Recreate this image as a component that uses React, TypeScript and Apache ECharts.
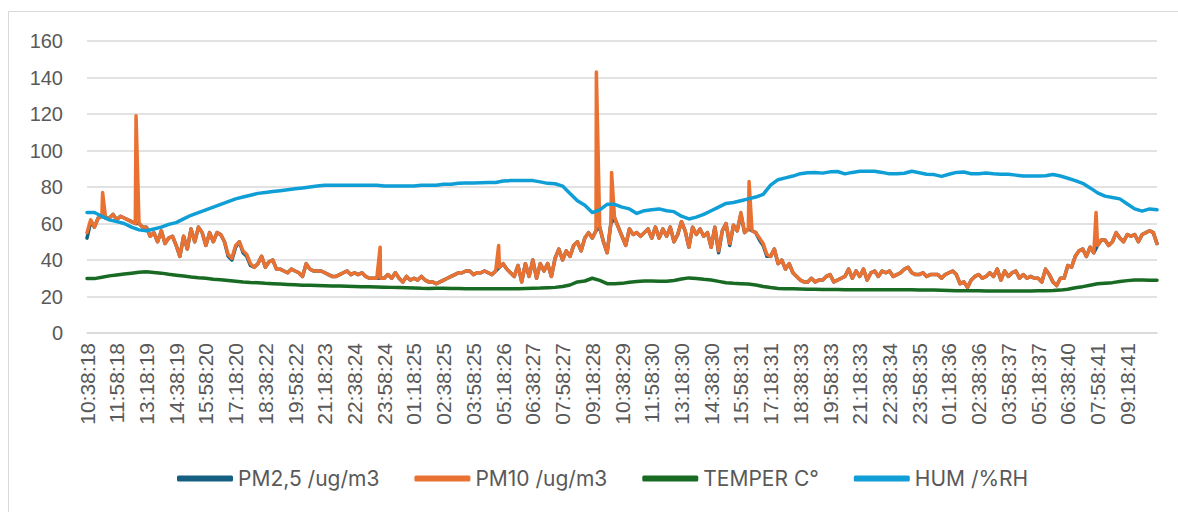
import React, { useEffect, useRef } from "react";
import * as echarts from "echarts";

// Tick labels of the time axis (one every 80 minutes)
const TIME_LABELS: string[] = [
  "10:38:18", "11:58:18", "13:18:19", "14:38:19", "15:58:20", "17:18:20",
  "18:38:22", "19:58:22", "21:18:23", "22:38:24", "23:58:24", "01:18:25",
  "02:38:25", "03:58:25", "05:18:26", "06:38:27", "07:58:27", "09:18:28",
  "10:38:29", "11:58:30", "13:18:30", "14:38:30", "15:58:31", "17:18:31",
  "18:38:33", "19:58:33", "21:18:33", "22:38:34", "23:58:35", "01:18:36",
  "02:38:36", "03:58:37", "05:18:37", "06:38:40", "07:58:41", "09:18:41",
];
const LABEL_STEP = 80; // minutes between tick labels
const X_MAX = 2880; // minutes covered by the chart
const PM_STEP = 10; // minutes between PM samples below
const SLOW_STEP = 20; // minutes between temperature / humidity samples below

const SERIES_NAMES = ["PM2,5 /ug/m3", "PM10 /ug/m3", "TEMPER C°", "HUM /%RH"];
const SERIES_COLORS = ["#156082", "#E97132", "#196B24", "#0F9ED5"];

// PM10, one value every 10 minutes (one row per 80-minute label interval)
const PM10: number[] = [
  55, 62, 58, 63, 64, 63, 63, 65,
  62, 64, 63, 62, 61, 60, 60, 58,
  58, 53, 55, 50, 56, 49, 52, 53,
  48, 42, 53, 46, 57, 50, 58, 55,
  48, 55, 50, 55, 54, 50, 43, 41,
  48, 50, 45, 43, 38, 36, 38, 42,
  36, 39, 40, 35, 35, 34, 33, 35,
  34, 33, 31, 38, 35, 34, 34, 34,
  33, 32, 31, 31, 32, 33, 34, 32,
  33, 32, 33, 31, 30, 30, 30, 30,
  30, 32, 30, 33, 30, 28, 31, 29,
  30, 29, 31, 29, 28, 28, 27, 28,
  29, 30, 31, 32, 33, 33, 34, 34,
  32, 33, 33, 34, 33, 32, 34, 36,
  38, 35, 33, 31, 37, 28, 38, 31,
  40, 30, 38, 34, 38, 31, 41, 46,
  40, 45, 42, 48, 50, 45, 52, 55,
  52, 56, 58, 50, 44, 60, 63, 58,
  53, 48, 57, 54, 55, 53, 55, 57,
  52, 58, 52, 57, 53, 58, 50, 54,
  61, 56, 47, 58, 54, 57, 53, 55,
  47, 58, 45, 56, 60, 49, 59, 56,
  66, 55, 57, 56, 55, 52, 49, 43,
  42, 46, 38, 40, 35, 38, 33, 31,
  29, 28, 28, 30, 28, 29, 29, 31,
  32, 28, 29, 30, 31, 35, 30, 34,
  31, 35, 29, 33, 34, 31, 34, 33,
  34, 31, 32, 33, 35, 36, 33, 32,
  32, 33, 31, 32, 32, 32, 30, 32,
  33, 34, 32, 27, 28, 25, 29, 31,
  32, 30, 31, 33, 31, 35, 29, 34,
  31, 33, 34, 30, 32, 30, 31, 30,
  30, 28, 35, 32, 28, 26, 30, 30,
  37, 36, 42, 45, 46, 42, 47, 44,
  48, 51, 51, 48, 50, 55, 52, 50,
  54, 53, 54, 50, 54, 55, 56, 55,
  49,
];

// Short PM10 peaks: [minute, value]
const PM10_PEAKS: [number, number][] = [
  [42, 77], [132, 119], [789, 47], [1108, 48],
  [1371, 143], [1412, 88], [1782, 83], [2716, 66],
];

// PM2.5, one value every 10 minutes (almost identical to PM10)
const PM25: number[] = [
  52, 61, 58, 63, 64, 63, 63, 65,
  62, 64, 63, 62, 61, 60, 60, 58,
  58, 53, 55, 50, 56, 49, 52, 53,
  48, 42, 53, 46, 57, 50, 58, 55,
  48, 55, 50, 55, 54, 50, 42, 40,
  47, 50, 44, 42, 37, 36, 38, 42,
  36, 39, 40, 35, 35, 34, 33, 35,
  34, 33, 31, 38, 35, 34, 34, 34,
  33, 32, 31, 31, 32, 33, 34, 32,
  33, 32, 33, 31, 30, 30, 30, 30,
  30, 32, 30, 33, 30, 28, 31, 29,
  30, 29, 31, 29, 28, 28, 27, 28,
  29, 30, 31, 32, 33, 33, 34, 34,
  32, 33, 33, 34, 33, 32, 34, 36,
  38, 35, 33, 31, 37, 28, 38, 31,
  40, 30, 38, 34, 38, 31, 41, 46,
  40, 45, 42, 48, 50, 45, 52, 55,
  52, 56, 58, 50, 44, 60, 63, 58,
  53, 48, 57, 54, 55, 53, 55, 57,
  52, 58, 52, 57, 53, 58, 50, 54,
  61, 56, 47, 58, 54, 57, 53, 55,
  47, 58, 44, 56, 60, 48, 59, 56,
  65, 55, 57, 56, 55, 51, 48, 42,
  42, 46, 38, 40, 35, 38, 33, 31,
  29, 28, 28, 30, 28, 29, 29, 31,
  32, 28, 29, 30, 31, 35, 30, 34,
  31, 35, 29, 33, 34, 31, 34, 33,
  34, 31, 32, 33, 35, 36, 33, 32,
  32, 33, 31, 32, 32, 32, 30, 32,
  33, 34, 32, 27, 28, 25, 29, 31,
  32, 30, 31, 33, 31, 35, 29, 34,
  31, 33, 34, 30, 32, 30, 31, 30,
  30, 28, 35, 32, 28, 26, 30, 30,
  37, 36, 42, 45, 46, 42, 47, 44,
  48, 51, 51, 48, 50, 55, 52, 50,
  54, 53, 54, 50, 54, 55, 56, 55,
  49,
];

// Temperature, one value every 20 minutes
const TEMPER: number[] = [
  29.8, 29.8, 30.5, 31.3,
  31.8, 32.3, 32.8, 33.3,
  33.5, 33.2, 32.8, 32.2,
  31.7, 31.2, 30.7, 30.3,
  30, 29.5, 29.2, 28.8,
  28.4, 28, 27.7, 27.5,
  27.2, 27, 26.8, 26.6,
  26.4, 26.2, 26.1, 26,
  25.9, 25.8, 25.7, 25.6,
  25.5, 25.4, 25.3, 25.2,
  25.1, 25, 24.9, 24.8,
  24.7, 24.5, 24.4, 24.5,
  24.5, 24.4, 24.4, 24.3,
  24.3, 24.3, 24.3, 24.3,
  24.3, 24.3, 24.3, 24.4,
  24.5, 24.6, 24.8, 25,
  25.5, 26.3, 28, 28.5,
  30, 28.8, 27, 27,
  27.2, 27.8, 28.2, 28.5,
  28.5, 28.4, 28.4, 28.8,
  29.6, 30.2, 29.9, 29.4,
  29, 28.3, 27.5, 27.2,
  27, 26.8, 26.3, 25.5,
  24.9, 24.4, 24.3, 24.2,
  24.1, 24, 24, 23.9,
  23.8, 23.8, 23.7, 23.7,
  23.7, 23.7, 23.7, 23.7,
  23.7, 23.7, 23.7, 23.7,
  23.6, 23.5, 23.5, 23.4,
  23.3, 23.2, 23.1, 23.2,
  23.1, 23, 23, 23,
  23, 23, 23, 23,
  23.1, 23.2, 23.3, 23.5,
  24, 24.8, 25.4, 26.2,
  27, 27.3, 27.6, 28.2,
  28.7, 29.1, 29, 28.9,
  28.9,
];

// Relative humidity, one value every 20 minutes
const HUM: number[] = [
  66, 66, 64, 62,
  61, 60, 58, 56.5,
  56, 57, 58, 59.5,
  60.5, 62.5, 64.5, 66,
  67.5, 69, 70.5, 72,
  73.5, 74.5, 75.5, 76.5,
  77, 77.5, 78, 78.5,
  79, 79.5, 80, 80.5,
  81, 81, 81, 81,
  81, 81, 81, 81,
  80.5, 80.5, 80.5, 80.5,
  80.5, 81, 81, 81,
  81.5, 81.5, 82, 82.2,
  82.2, 82.3, 82.4, 82.5,
  83.3, 83.5, 83.5, 83.5,
  83.5, 82.8, 82, 81.8,
  80.5, 76.5, 72.5, 70,
  66, 67.5, 70.5, 70.5,
  69, 68, 65.5, 67,
  67.5, 68, 67, 66.5,
  64, 62.5, 63.5, 65,
  67, 69, 71, 71.5,
  72.5, 73.5, 74.5, 76,
  81, 84, 85, 86,
  87.3, 87.8, 88, 87.6,
  88.3, 88.5, 87.2, 88,
  88.6, 88.6, 88.6, 88,
  87.2, 87.2, 87.5, 88.6,
  87.8, 87, 86.8, 85.8,
  87, 88, 88.2, 87.3,
  87.3, 87.7, 87.3, 87,
  87, 86.5, 86, 86,
  86, 86.2, 86.8, 86,
  84.8, 83.5, 82, 79.5,
  76.8, 75, 74.2, 73.5,
  70.7, 68, 66.8, 68,
  67.5,
];

const Y_TICKS = { min: 0, max: 160, interval: 20 };

const toPairs = (vals: number[], step: number): [number, number][] =>
  vals.map((v, i) => [i * step, v]);

export default function App() {
  const ref = useRef<HTMLDivElement>(null);

  useEffect(() => {
    if (!ref.current) return;
    const chart = echarts.init(ref.current, undefined, { renderer: "svg" });

    const pm10 = [...toPairs(PM10, PM_STEP), ...PM10_PEAKS].sort((a, b) => a[0] - b[0]);
    const dataSets = [
      toPairs(PM25, PM_STEP),
      pm10,
      toPairs(TEMPER, SLOW_STEP),
      toPairs(HUM, SLOW_STEP),
    ];

    chart.setOption({
      animation: false,
      backgroundColor: "#ffffff",
      graphic: [
        {
          type: "rect",
          shape: { x: 8.5, y: 11.5, width: 1400, height: 800 },
          style: { fill: "none", stroke: "#d9d9d9", lineWidth: 1 },
          silent: true,
        },
      ],
      grid: { left: 87, right: 21, top: 41, bottom: 179, containLabel: false },
      legend: {
        data: SERIES_NAMES,
        left: 172,
        top: 463,
        icon: "roundRect",
        itemWidth: 56,
        itemHeight: 6,
        itemGap: 35,
        textStyle: { fontFamily: "Inter", fontSize: 21, color: "#595959" },
      },
      xAxis: {
        type: "value",
        min: 0,
        max: X_MAX,
        interval: LABEL_STEP,
        axisLine: { show: true, lineStyle: { color: "#d9d9d9", width: 1.5 } },
        axisTick: { show: false },
        splitLine: { show: false },
        axisLabel: {
          rotate: 90,
          margin: 10,
          fontFamily: "Liberation Sans",
          fontSize: 21,
          color: "#595959",
          showMinLabel: true,
          showMaxLabel: true,
          formatter: (v: number) => {
            const idx = Math.round(v / LABEL_STEP);
            return Math.abs(v - idx * LABEL_STEP) < 1e-6 && idx < TIME_LABELS.length
              ? TIME_LABELS[idx]
              : "";
          },
        },
      },
      yAxis: {
        type: "value",
        min: Y_TICKS.min,
        max: Y_TICKS.max,
        interval: Y_TICKS.interval,
        axisLine: { show: false },
        axisTick: { show: false },
        splitLine: { lineStyle: { color: "#d9d9d9", width: 1.5 } },
        axisLabel: {
          margin: 24,
          fontFamily: "Liberation Sans",
          fontSize: 20,
          color: "#595959",
        },
      },
      series: SERIES_NAMES.map((name, i) => ({
        name,
        type: "line",
        symbol: "none",
        data: dataSets[i],
        color: SERIES_COLORS[i],
        lineStyle: { width: 3.5, color: SERIES_COLORS[i], cap: "round", join: "round" },
      })),
    });

    return () => chart.dispose();
  }, []);

  return (
    <div
      ref={ref}
      style={{ position: "fixed", left: 0, top: 0, width: 1178, height: 512, background: "#fff" }}
    />
  );
}
